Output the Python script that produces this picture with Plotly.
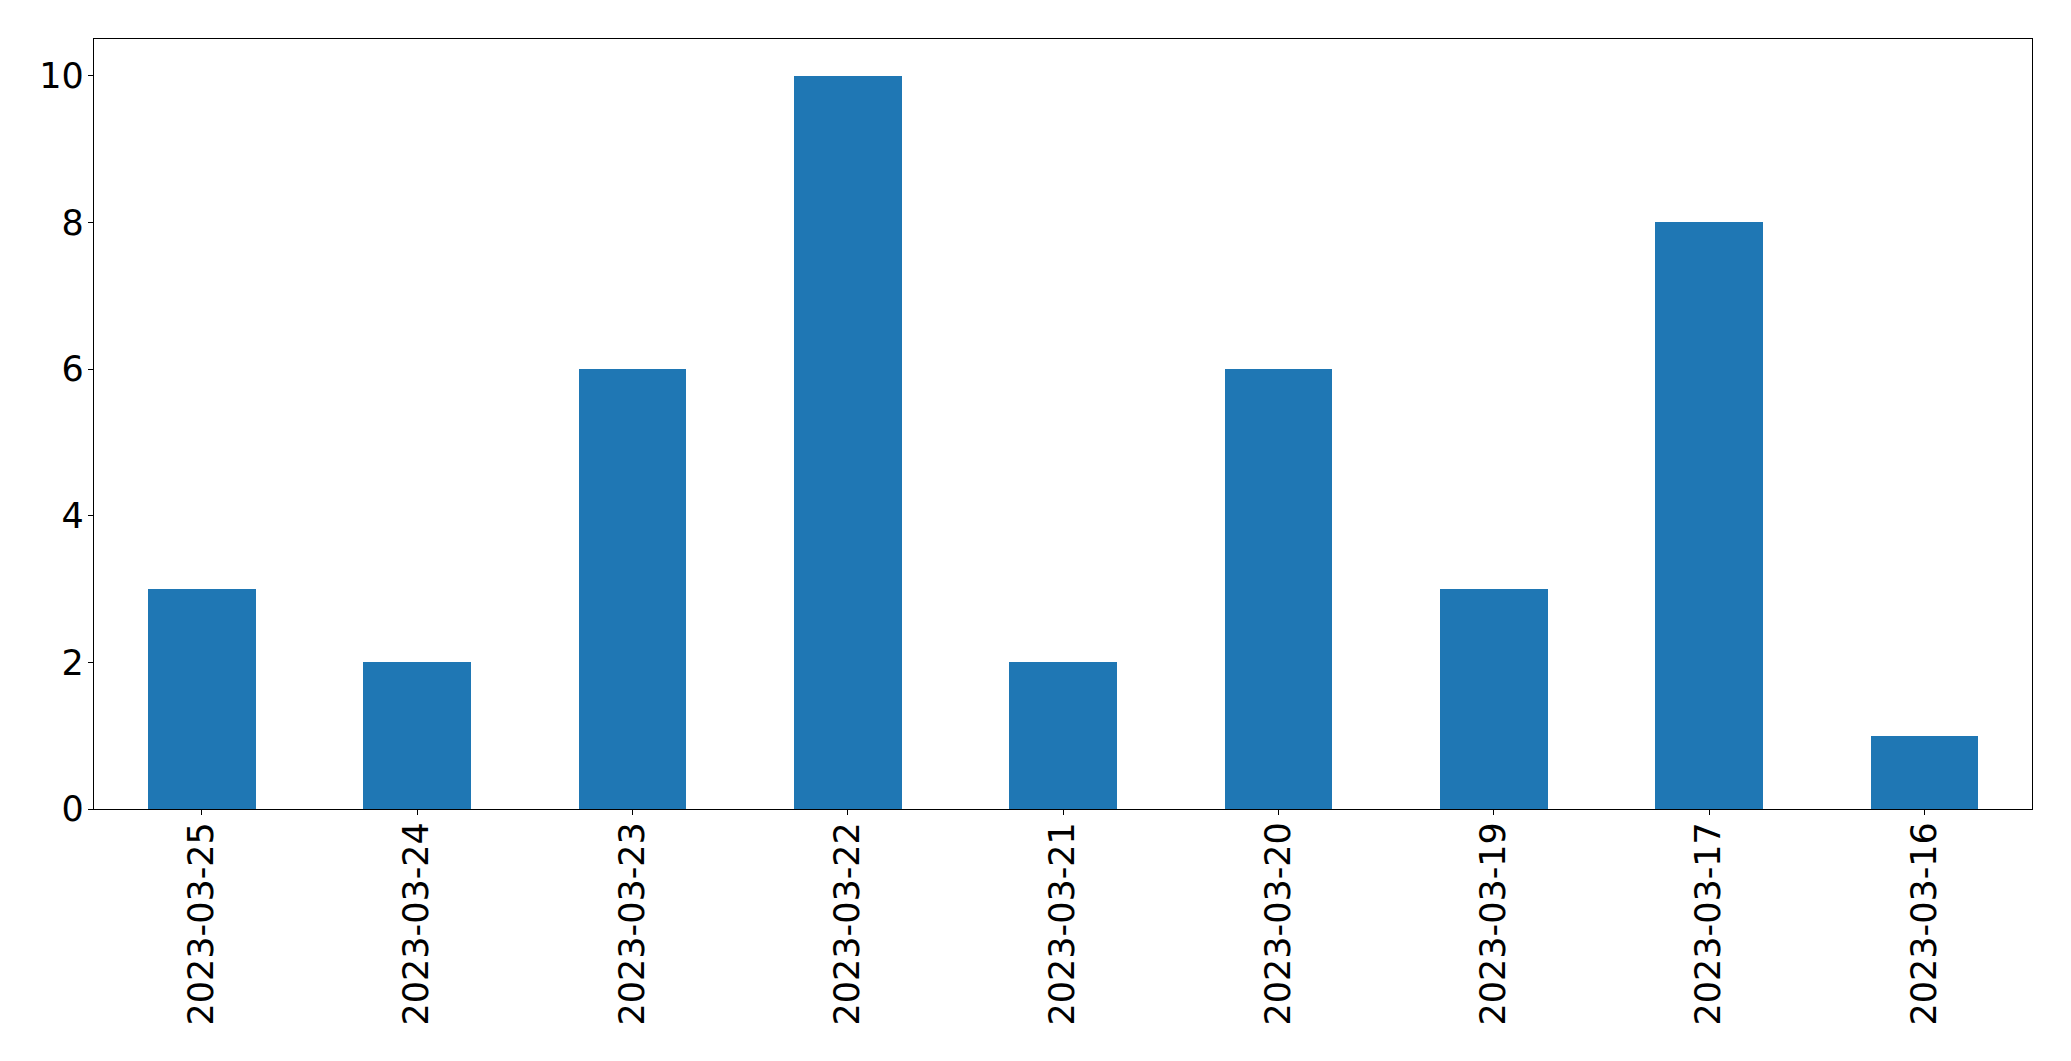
import plotly.graph_objects as go

dates = ["2023-03-25", "2023-03-24", "2023-03-23", "2023-03-22", "2023-03-21",
         "2023-03-20", "2023-03-19", "2023-03-17", "2023-03-16"]
counts = [3, 2, 6, 10, 2, 6, 3, 8, 1]
y_ticks = [0, 2, 4, 6, 8, 10]

fig = go.Figure(go.Bar(x=dates, y=counts, width=0.5, marker=dict(color="#1f77b4", line=dict(width=0))))

axis_common = dict(showline=True, linecolor="black", linewidth=1.3, mirror=True,
                   ticks="outside", ticklen=5, tickwidth=1.3, tickcolor="black",
                   showgrid=False, zeroline=False,
                   tickfont=dict(family="DejaVu Sans", size=35, color="black"))

fig.update_layout(
    width=2055, height=1045, autosize=False,
    margin=dict(l=86, r=31, t=31, b=244, pad=0),
    plot_bgcolor="white", paper_bgcolor="white",
    showlegend=False,
    bargap=0,
)
fig.update_xaxes(type="category", range=[-0.5, 8.5], tickangle=-90, ticklabelstandoff=-7, **axis_common)
fig.update_yaxes(range=[0, 10.5], tickvals=y_ticks, ticklabelstandoff=-3, **axis_common)

fig.write_html("out.html")
